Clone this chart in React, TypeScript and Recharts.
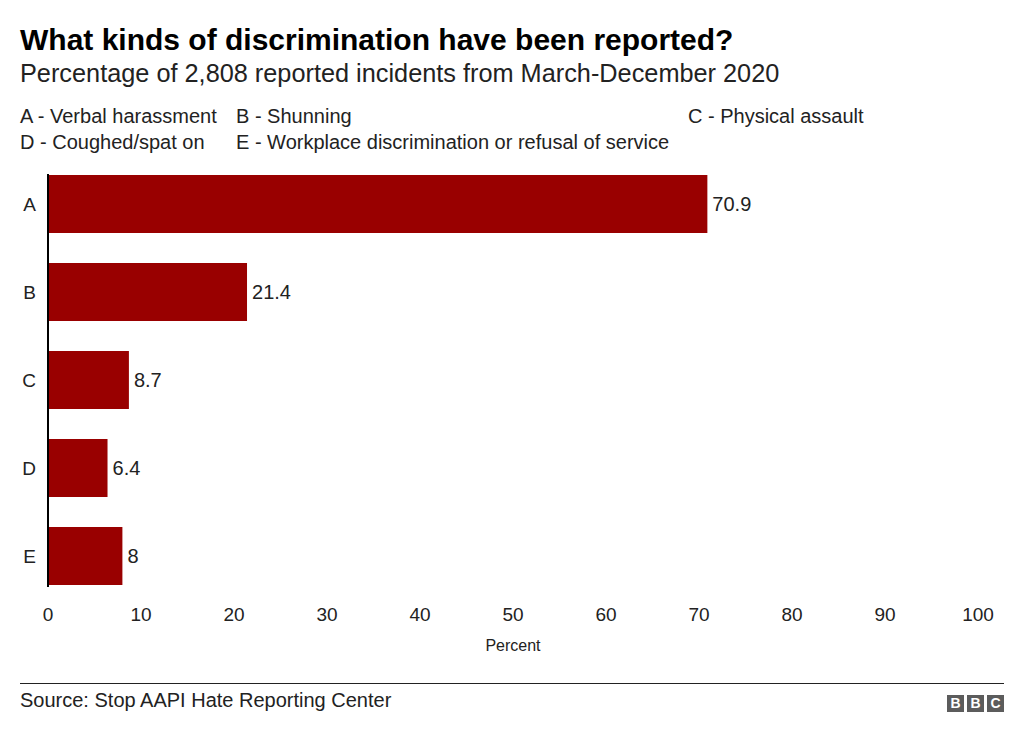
import { BarChart, Bar, XAxis, YAxis, LabelList } from "recharts"

const categories = ["A", "B", "C", "D", "E"]
const percentages = [70.9, 21.4, 8.7, 6.4, 8]
const xTicks = [0, 10, 20, 30, 40, 50, 60, 70, 80, 90, 100]
const legendItems = [
  "A - Verbal harassment",
  "B - Shunning",
  "C - Physical assault",
  "D - Coughed/spat on",
  "E - Workplace discrimination or refusal of service",
  "",
]

const data = categories.map((c, i) => ({ category: c, value: percentages[i] }))

const font = '"Liberation Sans", Arial, Helvetica, sans-serif'
const red = "#990000"

export default function App() {
  return (
    <div
      style={{
        position: "absolute",
        left: 0,
        top: 0,
        width: 1024,
        height: 738,
        background: "#fff",
        fontFamily: font,
        color: "#222",
      }}
    >
      <div style={{ position: "absolute", left: 20, top: 22, fontSize: 30, lineHeight: "35px", fontWeight: "bold", color: "#000", whiteSpace: "nowrap" }}>
        What kinds of discrimination have been reported?
      </div>
      <div style={{ position: "absolute", left: 20, top: 58, fontSize: 25.3, lineHeight: "30px", whiteSpace: "nowrap" }}>
        Percentage of 2,808 reported incidents from March-December 2020
      </div>

      <div
        style={{
          position: "absolute",
          left: 20,
          top: 105,
          display: "grid",
          gridTemplateColumns: "216px 452px auto",
          rowGap: 4,
          fontSize: 20,
          lineHeight: "22px",
        }}
      >
        {legendItems.map((t, i) => (
          <div key={i} style={{ whiteSpace: "nowrap" }}>{t}</div>
        ))}
      </div>

      <div style={{ position: "absolute", left: 0, top: 150 }}>
        <BarChart
          width={1024}
          height={510}
          data={data}
          layout="vertical"
          margin={{ top: 24, right: 46, bottom: 3, left: 0 }}
        >
          <XAxis
            type="number"
            domain={[0, 100]}
            ticks={xTicks}
            axisLine={false}
            tickLine={false}
            tickMargin={15}
            height={70}
            tick={{ fill: "#222", fontSize: 19, fontFamily: font }}
            label={{ value: "Percent", position: "insideBottom", offset: 6, fill: "#222", fontSize: 16, fontFamily: font }}
          />
          <YAxis
            type="category"
            dataKey="category"
            width={48}
            tickLine={false}
            tickMargin={6}
            axisLine={{ stroke: "#000", strokeWidth: 2 }}
            padding={{ top: -14, bottom: -13 }}
            tick={{ fill: "#222", fontSize: 19, fontFamily: font }}
          />
          <Bar dataKey="value" fill={red} barSize={58} isAnimationActive={false}>
            <LabelList dataKey="value" position="right" offset={5} fill="#222" fontSize={20} fontFamily={font} />
          </Bar>
        </BarChart>
      </div>

      <div style={{ position: "absolute", left: 20, top: 683, width: 984, height: 1, background: "#222" }} />
      <div style={{ position: "absolute", left: 20, top: 689, fontSize: 20, lineHeight: "23px" }}>
        Source: Stop AAPI Hate Reporting Center
      </div>
      <div style={{ position: "absolute", left: 947, top: 695, display: "flex", gap: 3 }}>
        {["B", "B", "C"].map((l, i) => (
          <div
            key={i}
            style={{
              width: 17,
              height: 17,
              background: "#5c5c5c",
              color: "#fff",
              fontSize: 14,
              fontWeight: "bold",
              lineHeight: "17px",
              textAlign: "center",
            }}
          >
            {l}
          </div>
        ))}
      </div>
    </div>
  )
}
